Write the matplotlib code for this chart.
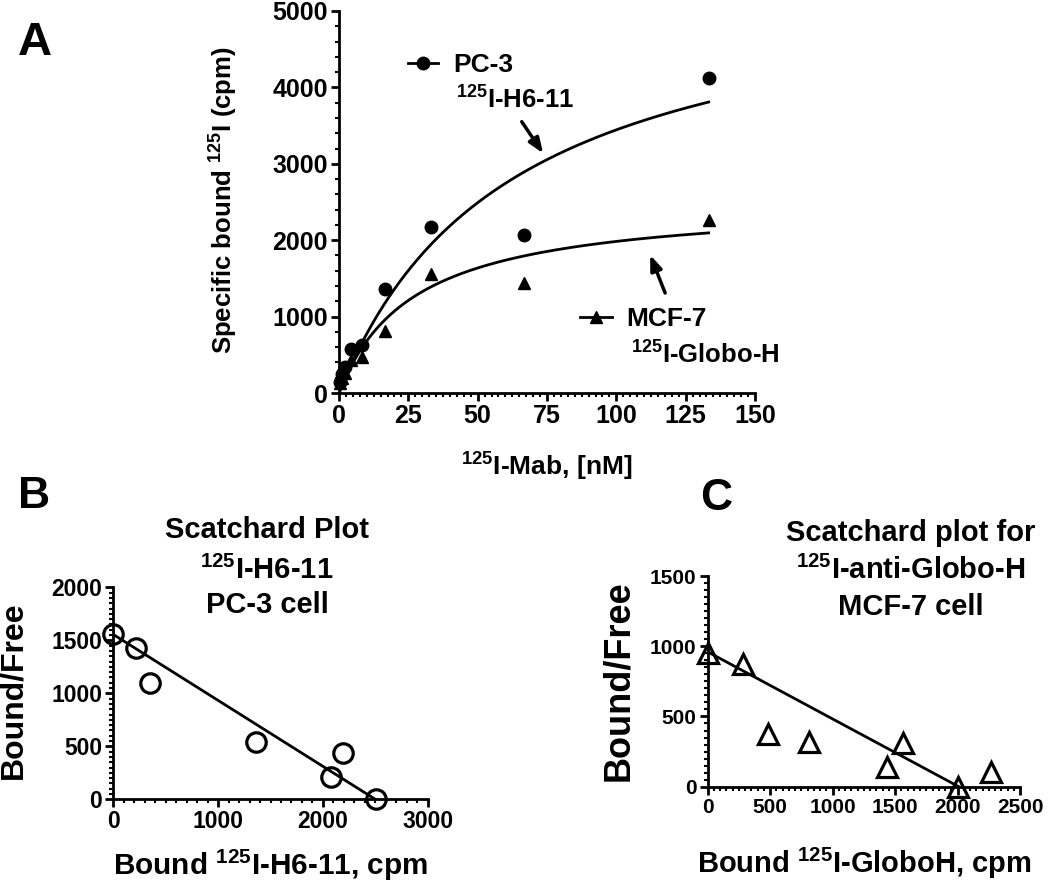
import numpy as np
import matplotlib
matplotlib.use('Agg')
import matplotlib.pyplot as plt
from matplotlib.lines import Line2D
from matplotlib.ticker import MultipleLocator

plt.rcParams['font.family'] = ['Liberation Sans', 'DejaVu Sans']
plt.rcParams['font.weight'] = 'bold'
plt.rcParams['mathtext.fontset'] = 'custom'
plt.rcParams['mathtext.rm'] = 'Liberation Sans:bold'
plt.rcParams['mathtext.bf'] = 'Liberation Sans:bold'
plt.rcParams['mathtext.it'] = 'Liberation Sans:bold'
plt.rcParams['mathtext.default'] = 'bf'

# Panel A: saturation binding
conc = [0.52, 1.04, 2.08, 4.17, 8.33, 16.7, 33.3, 66.7, 133.3]
pc3_bound = [150, 250, 340, 572, 628, 1361, 2177, 2068, 4119]
mcf7_bound = [130, 200, 260, 430, 475, 811, 1557, 1435, 2264]
# one-site fit parameters (Bmax, Kd)
pc3_fit = (5580, 62)
mcf7_fit = (2520, 27)

# Panel B: Scatchard PC-3
b_bound = [0, 217, 347, 1360, 2074, 2188, 2504]
b_bf = [1557, 1432, 1094, 538, 208, 434, 0]
b_line = (1555, 2500)  # y-intercept, x-intercept

# Panel C: Scatchard MCF-7
c_bound = [0, 280, 485, 812, 1435, 1563, 2005, 2268]
c_bf = [955, 870, 377, 315, 137, 309, 0, 107]
c_line = (960, 2010)

W, H = 1050, 883
fig = plt.figure(figsize=(W / 100, H / 100), dpi=100)


def fx(px):
    return px / W


def fy(py):
    return 1 - py / H


def label(px, py, txt, size, rot=0, ha='center'):
    fig.text(fx(px), fy(py), txt, fontsize=size, fontweight='bold',
             ha=ha, va='center', rotation=rot)


def style_axes(ax, lsize):
    for s in ['top', 'right']:
        ax.spines[s].set_visible(False)
    for s in ['left', 'bottom']:
        ax.spines[s].set_linewidth(2)
    ax.tick_params(which='major', direction='out', length=6, width=2,
                   labelsize=lsize, pad=2)
    ax.tick_params(which='minor', direction='out', length=3, width=1.5)
    for lab in ax.get_xticklabels() + ax.get_yticklabels():
        lab.set_fontweight('bold')


# ---- Panel A ----
axA = fig.add_axes([fx(339), fy(393), fx(755 - 339), (393 - 11) / H])
xs = np.linspace(0, conc[-1], 300)
axA.plot(xs, pc3_fit[0] * xs / (pc3_fit[1] + xs), color='black', lw=2)
axA.plot(xs, mcf7_fit[0] * xs / (mcf7_fit[1] + xs), color='black', lw=2)
axA.plot(conc, pc3_bound, 'o', color='black', ms=9, clip_on=False)
axA.plot(conc, mcf7_bound, '^', color='black', ms=9, clip_on=False)
axA.set_xlim(0, 150)
axA.set_ylim(0, 5000)
axA.set_xticks(range(0, 151, 25))
axA.set_yticks(range(0, 5001, 1000))
axA.xaxis.set_minor_locator(MultipleLocator(2.5))
axA.yaxis.set_minor_locator(MultipleLocator(200))
style_axes(axA, 18)
label(224, 200, r'Specific bound $^{125}$I (cpm)', 18.5, rot=90)
label(547, 467, r'$^{125}$I-Mab, [nM]', 19)

leg1 = axA.legend([Line2D([], [], color='black', marker='o', ms=9, lw=2)],
                  ['PC-3'], loc='center left', frameon=False,
                  bbox_to_anchor=(fx(408), fy(65)),
                  bbox_transform=fig.transFigure, borderpad=0,
                  borderaxespad=0, handlelength=1.15, handletextpad=0.55,
                  prop={'size': 19, 'weight': 'bold'})
axA.add_artist(leg1)
axA.legend([Line2D([], [], color='black', marker='^', ms=9, lw=2)],
           ['MCF-7'], loc='center left', frameon=False,
           bbox_to_anchor=(fx(580), fy(319)),
           bbox_transform=fig.transFigure, borderpad=0,
           borderaxespad=0, handlelength=1.2, handletextpad=0.55,
           prop={'size': 19, 'weight': 'bold'})
label(456, 100, r'$^{125}$I-H6-11', 18.5, ha='left')
label(631, 355, r'$^{125}$I-Globo-H', 18.5, ha='left')

arrow = dict(arrowstyle='-|>,head_length=0.9,head_width=0.35', lw=2.5,
             color='black', shrinkA=0, shrinkB=0)
axA.annotate('', xy=(73.6, 3137), xytext=(65.9, 3551), arrowprops=arrow)
axA.annotate('', xy=(112.2, 1806), xytext=(117.6, 1309), arrowprops=arrow)

# ---- Panel B ----
axB = fig.add_axes([fx(113.3), fy(799.3), fx(427.7 - 113.3),
                    (799.3 - 587.3) / H])
axB.plot([0, b_line[1]], [b_line[0], 0], color='black', lw=2)
axB.plot(b_bound, b_bf, 'o', mfc='none', mec='black', mew=2.3, ms=14,
         clip_on=False)
axB.set_xlim(0, 3000)
axB.set_ylim(0, 2000)
axB.set_xticks([0, 1000, 2000, 3000])
axB.set_yticks([0, 500, 1000, 1500, 2000])
axB.xaxis.set_minor_locator(MultipleLocator(100))
axB.yaxis.set_minor_locator(MultipleLocator(50))
style_axes(axB, 16.5)
label(13, 690, 'Bound/Free', 23, rot=90)
label(271, 865, r'Bound $^{125}$I-H6-11, cpm', 21.4)
for txt, py in [('Scatchard Plot', 530), (r'$^{125}$I-H6-11', 570),
                ('PC-3 cell', 605)]:
    label(267, py, txt, 21)

# ---- Panel C ----
axC = fig.add_axes([fx(707.7), fy(786.7), fx(1020 - 707.7),
                    (786.7 - 576) / H])
axC.plot([0, c_line[1]], [c_line[0], 0], color='black', lw=2)
axC.plot(c_bound, c_bf, '^', mfc='none', mec='black', mew=2.3, ms=15,
         clip_on=False)
axC.set_xlim(0, 2500)
axC.set_ylim(0, 1500)
axC.set_xticks([0, 500, 1000, 1500, 2000, 2500])
axC.set_yticks([0, 500, 1000, 1500])
axC.xaxis.set_minor_locator(MultipleLocator(50))
axC.yaxis.set_minor_locator(MultipleLocator(50))
style_axes(axC, 15)
label(619, 681, 'Bound/Free', 26, rot=90)
label(864, 863, r'Bound $^{125}$I-GloboH, cpm', 21)
for txt, py in [('Scatchard plot for', 533), (r'$^{125}$I-anti-Globo-H', 570),
                ('MCF-7 cell', 607)]:
    label(911, py, txt, 21)

# panel letters
label(35, 43, 'A', 34)
label(34, 497, 'B', 32)
label(716, 498, 'C', 32)

fig.savefig('out.png', dpi=100)
